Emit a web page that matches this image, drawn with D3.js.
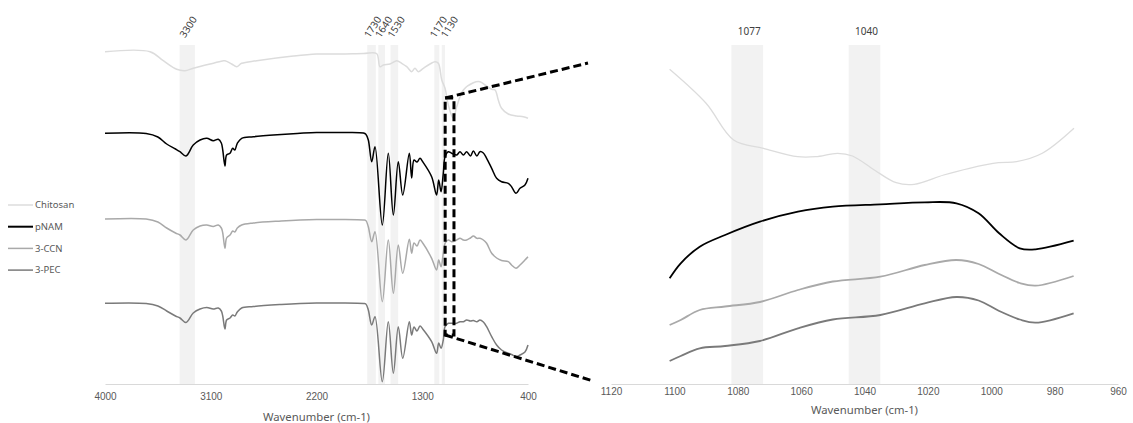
<!DOCTYPE html>
<html>
<head>
<meta charset="utf-8">
<script src="https://cdn.jsdelivr.net/npm/d3@7"></script>
<style>
  body { margin: 0; background: #fff; }
  svg { display: block; font-family: "Noto Sans", "Open Sans", sans-serif; }
</style>
</head>
<body>
<svg id="chart" width="1133" height="423"></svg>
<script>
// ---- data (transmittance in arbitrary offset units) ----
const seriesNames = ["Chitosan", "pNAM", "3-CCN", "3-PEC"];

// full spectrum, left panel
const leftTicks = [4000, 3100, 2200, 1300, 400];
const wnChitosan = [4000, 3617, 3504, 3390, 3319, 3249, 3106, 3000, 2979, 2922, 2879, 2837, 2709, 2397, 2200, 2000,
  1800, 1689, 1660, 1631, 1574, 1517, 1475, 1432, 1390, 1362, 1334, 1291, 1234, 1191, 1163, 1134, 1106, 1078,
  1036, 1007, 950, 865, 809, 766, 709, 680, 653, 625, 568, 497, 440, 400];
const chitosanFull = [332.3, 332.3, 323.3, 314.7, 313.3, 315.7, 320, 323, 323.3, 320, 317.3, 320.7, 323.3, 328, 330, 330,
  330.5, 330.5, 317.3, 319, 320, 323.3, 320.7, 317.3, 312.3, 315.7, 312.3, 315.7, 320, 322.3, 320.7, 304, 295.7, 279,
  265.7, 277.3, 294, 301.3, 302.3, 299, 294.7, 294, 284, 275.7, 270, 268, 267.3, 265.7];

const wnFull = [4000, 3650, 3550, 3475, 3400, 3362, 3311, 3249, 3191, 3134, 3079, 3036, 3010, 2998, 2979, 2965, 2936,
  2913, 2895, 2874, 2837, 2738, 2500, 2340, 2200, 2000, 1800, 1780, 1759, 1730, 1702, 1640, 1589, 1546, 1504, 1466,
  1410, 1390, 1370, 1345, 1319, 1296, 1220, 1178, 1160, 1140, 1121, 1106, 1078, 1050, 1007, 979, 950, 922, 890, 865,
  835, 809, 780, 752, 709, 667, 625, 568, 540, 502, 468, 426, 400];
const pnamFull = [250.7, 250.5, 247, 240, 235, 232.3, 228, 239, 244, 245.7, 243.3, 244.7, 241, 234, 218, 229, 230.7,
  235.7, 234, 240.7, 245.7, 247.3, 249.5, 250.7, 251.5, 251.5, 251, 249.7, 244, 222.3, 237.3, 159, 230.7, 169, 222.3, 189,
  230.7, 206, 224, 222, 225.7, 222.3, 207.3, 189, 204, 192.3, 210.7, 227.3, 232.3, 230.7, 229, 232.3, 229, 232.3, 228, 233,
  228, 232.3, 231, 225.7, 215.7, 205.7, 202.3, 200.7, 197.3, 190.7, 195.7, 199, 205.7];
const ccnFull = [165, 165, 162, 156, 151, 149, 144, 154, 158, 159, 157.5, 159, 156, 151, 135.7, 146, 149,
  153, 152, 156, 159, 161, 163, 164, 164.5, 164.5, 164, 163.5, 157.3, 142.3, 152.3, 82.3, 144, 90.7, 139, 110.7,
  144.7, 130.7, 141, 138, 144, 141, 125.7, 114, 124, 117.3, 130.7, 140.7, 144, 142.3, 144, 145.7, 144, 144, 146, 148,
  145.7, 145.7, 144, 140.7, 130.7, 126, 123.5, 122.3, 119, 115.7, 119, 124, 127.3];
const pecFull = [80.7, 80.5, 78, 73, 68, 66, 61.5, 71, 75, 76.5, 75, 76, 73, 68, 55, 64, 66,
  69, 68, 72, 76, 77.5, 79.5, 80.5, 81, 81, 80.5, 80, 74, 59, 67.3, 2.3, 62.3, 10.7, 57.3, 25.7,
  62.3, 49, 57, 53, 58, 55, 42.3, 30.7, 41, 35.7, 44, 57.3, 60.7, 60.7, 60.7, 62.3, 62.3, 64, 63, 63.5,
  62.3, 64, 62, 57.3, 47.3, 39, 34, 30.7, 29.5, 27.3, 29, 32, 39];

// highlighted bands, left panel
const bandLabels = [3300, 1730, 1640, 1530, 1170, 1130];
const bandFrom = [3365, 1768, 1674, 1570, 1197, 1134];
const bandTo = [3235, 1695, 1617, 1505, 1155, 1106];

// zoomed region, right panel
const rightTicks = [1120, 1100, 1080, 1060, 1040, 1020, 1000, 980, 960];
const wnZoomChitosan = [1101.5, 1090, 1081.3, 1071.9, 1061.1, 1055.4, 1048.5, 1043.8, 1036.9, 1030, 1024.3, 1015,
  1006.9, 997.7, 992, 983.9, 973.9];
const chitosanZoom = [314.7, 280.7, 244, 235.7, 227.3, 227.3, 230.7, 228, 214, 201.3, 199.7, 209,
  215.7, 221.3, 222.3, 230.7, 255.7];
const wnZoom = [1101.5, 1098, 1092, 1084, 1073, 1061, 1050, 1035, 1021, 1011, 1004, 997.5, 991, 986, 974];
const pnamZoom = [105.7, 120.7, 137.3, 149, 162.3, 172.3, 177.3, 179.7, 181.7, 180.7, 170.7, 150.7, 135.7, 134.7, 143.3];
const ccnZoom = [59, 64, 74, 77.5, 82, 94, 102.5, 107.3, 119, 124, 120, 110, 101, 98.3, 108];
const pecZoom = [23, 28, 35.7, 38, 43, 55.7, 64.5, 69, 80.7, 87, 83.5, 73, 64.5, 61.3, 70.7];

const zoomBandLabels = [1077, 1040];
const zoomBandFrom = [1082, 1045];
const zoomBandTo = [1072, 1035];

// ---- drawing ----
const svg = d3.select("#chart");
const colors = ["#dcdcdc", "#000000", "#a9a9a9", "#7a7a7a"];

const y = d3.scaleLinear().domain([0, 340]).range([384, 44]);
const xL = d3.scaleLinear().domain([4000, 400]).range([105, 528]);
const xR = d3.scaleLinear().domain([1120, 960]).range([611, 1118]);

function drawBands(x, from, to) {
  svg.append("g").selectAll("rect")
    .data(from)
    .enter()
    .append("rect")
    .attr("x", (d, i) => Math.min(x(d), x(to[i])))
    .attr("width", (d, i) => Math.abs(x(to[i]) - x(d)))
    .attr("y", y(339))
    .attr("height", y(0) - y(339))
    .attr("fill", "#f2f2f2");
}

function drawAxis(x, ticks, padding, titleY) {
  const g = svg.append("g")
    .attr("transform", `translate(0,${y(0)})`)
    .call(d3.axisBottom(x).tickValues(ticks).tickSize(0).tickPadding(padding).tickFormat(d3.format("d")));
  g.select(".domain").attr("stroke", "#d9d9d9");
  g.selectAll("text").attr("fill", "#595959").attr("font-size", 10).attr("font-family", null);
  const r = x.range();
  svg.append("text")
    .attr("x", (r[0] + r[1]) / 2)
    .attr("y", titleY)
    .attr("text-anchor", "middle")
    .attr("font-size", 11.3)
    .attr("fill", "#595959")
    .text("Wavenumber (cm-1)");
}

function drawLine(x, xs, ys, color, width) {
  const line = d3.line()
    .x((d, i) => x(xs[i]))
    .y(d => y(d))
    .curve(d3.curveCatmullRom);
  svg.append("path")
    .datum(ys)
    .attr("d", line)
    .attr("fill", "none")
    .attr("stroke", color)
    .attr("stroke-width", width)
    .attr("stroke-linejoin", "round");
}

// left panel
drawBands(xL, bandFrom, bandTo);
drawAxis(xL, leftTicks, 9, 421);
drawLine(xL, wnChitosan, chitosanFull, colors[0], 1.5);
drawLine(xL, wnFull, pnamFull, colors[1], 1.5);
drawLine(xL, wnFull, ccnFull, colors[2], 1.5);
drawLine(xL, wnFull, pecFull, colors[3], 1.5);

// rotated band labels, nudged apart where they would collide
let lastX = -Infinity;
bandLabels.forEach(wn => {
  let lx = Math.max(xL(wn), lastX + 11);
  lastX = lx;
  svg.append("text")
    .attr("transform", `translate(${lx + 1},27) rotate(-57)`)
    .attr("text-anchor", "middle")
    .attr("dy", "0.35em")
    .attr("font-size", 10)
    .attr("fill", "#404040")
    .text(wn);
});

// right panel
drawBands(xR, zoomBandFrom, zoomBandTo);
drawAxis(xR, rightTicks, 4, 414);
drawLine(xR, wnZoomChitosan, chitosanZoom, colors[0], 1.3);
drawLine(xR, wnZoom, pnamZoom, colors[1], 1.8);
drawLine(xR, wnZoom, ccnZoom, colors[2], 1.8);
drawLine(xR, wnZoom, pecZoom, colors[3], 1.8);

zoomBandLabels.forEach(wn => {
  svg.append("text")
    .attr("x", xR(wn) + 2)
    .attr("y", 31)
    .attr("dy", "0.35em")
    .attr("text-anchor", "middle")
    .attr("font-size", 10)
    .attr("fill", "#404040")
    .text(wn);
});

// legend
const legend = svg.append("g");
seriesNames.forEach((name, i) => {
  const ly = 205 + i * 21.7;
  legend.append("line")
    .attr("x1", 8).attr("x2", 33)
    .attr("y1", ly).attr("y2", ly)
    .attr("stroke", colors[i])
    .attr("stroke-width", i === 1 ? 2 : 1.5);
  legend.append("text")
    .attr("x", 35).attr("y", ly)
    .attr("dy", "0.35em")
    .attr("font-size", 9.5)
    .attr("fill", "#595959")
    .text(name);
});

// dashed zoom box and connector lines
const boxL = xL(1105), boxR = xL(1030), boxT = y(286), boxB = y(49);
const dash = g => g.attr("fill", "none").attr("stroke", "#000").attr("stroke-width", 3).attr("stroke-dasharray", "8,4");
svg.append("rect")
  .attr("x", boxL).attr("y", boxT)
  .attr("width", boxR - boxL).attr("height", boxB - boxT)
  .call(dash);
svg.append("line")
  .attr("x1", boxL).attr("y1", boxT)
  .attr("x2", xR(1120) - 23).attr("y2", 63)
  .call(dash);
svg.append("line")
  .attr("x1", boxL).attr("y1", boxB)
  .attr("x2", xR(1120) - 18).attr("y2", 381)
  .call(dash);
</script>
</body>
</html>
